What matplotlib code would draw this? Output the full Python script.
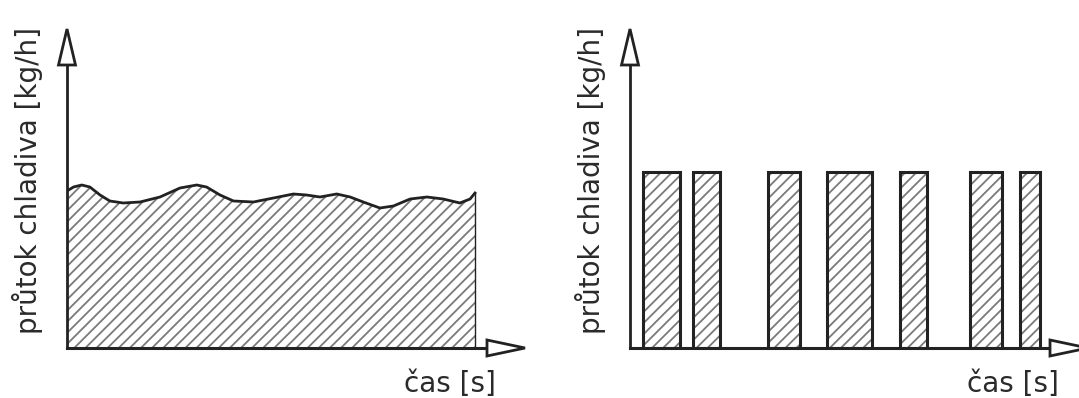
import numpy as np
import matplotlib as mpl
mpl.use('agg')
import matplotlib.pyplot as plt
from matplotlib.patches import Polygon

## left panel: continuous flow (time in %, flow in relative units)
t_cont = [0, 1.6, 3.6, 5.6, 8.1, 10.5, 13.8, 17.9, 22.8, 27.7, 31.8, 34.2, 37.5,
          40.8, 45.7, 50.6, 55.5, 58.7, 62.0, 66.1, 69.4, 72.6, 76.7, 80.0,
          84.1, 88.2, 92.2, 96.3, 98.8, 100]
flow_cont = [157, 161, 163, 161, 153, 147, 145, 146, 151, 160, 163, 161, 153,
             147, 146, 150, 154, 153, 151, 154, 151, 146, 140, 142,
             149, 151, 149, 145, 149, 155]

## right panel: on/off flow pulses
pulse_start = [3.2, 15.4, 33.8, 48.3, 66.2, 83.3, 95.6]
pulse_width = [9.1, 6.6, 7.8, 11.0, 6.6, 7.8, 4.9]
pulse_flow = [176, 176, 176, 176, 176, 176, 176]

ylabel = "průtok chladiva [kg/h]"
xlabel = "čas [s]"

W, H = 1079, 398
PX = 4.08          # px per time unit
INK = '#222222'
HATCH = '#7a7a7a'
plt.rcParams['hatch.linewidth'] = 1.3

fig = plt.figure(figsize=(W / 100, H / 100), dpi=100)


def make_panel(x0):
    # axes origin at pixel x0, baseline at y=348
    ax = fig.add_axes([x0 / W, (H - 348) / H, (W - x0) / W, 338 / H])
    ax.set_xlim(0, (W - x0) / PX)
    ax.set_ylim(0, 338)
    ax.axis('off')
    # y arrow
    ytip, hl, hw = 319, 36, 8.5 / PX
    ax.plot([0, 0], [0, ytip - hl], color=INK, lw=2, clip_on=False, zorder=4)
    ax.add_patch(Polygon([[0, ytip], [-hw, ytip - hl], [hw, ytip - hl]], closed=True,
                         fc='white', ec=INK, lw=2, clip_on=False, zorder=5))
    # x arrow
    xtip, hl, hw = 458 / PX, 38 / PX, 8
    ax.plot([0, xtip - hl], [0, 0], color=INK, lw=2.2, clip_on=False, zorder=4)
    ax.add_patch(Polygon([[xtip, 0], [xtip - hl, hw], [xtip - hl, -hw]], closed=True,
                         fc='white', ec=INK, lw=2, clip_on=False, zorder=5))
    fig.text((x0 - 39) / W, 1 - 180 / H, ylabel, rotation=90, ha='center', va='center',
             fontsize=20, color='#2a2a2a')
    fig.text((x0 + 383) / W, 1 - 384 / H, xlabel, ha='center', va='center',
             fontsize=20, color='#2a2a2a')
    return ax


ax1 = make_panel(67)
ax1.fill_between(t_cont, 0, flow_cont, facecolor='white', edgecolor=HATCH,
                 hatch='///', linewidth=0)
ax1.plot(t_cont, flow_cont, color=INK, lw=2)
ax1.plot([t_cont[-1], t_cont[-1]], [0, flow_cont[-1]], color=INK, lw=1)

ax2 = make_panel(630)
ax2.bar(pulse_start, pulse_flow, width=pulse_width, align='edge', facecolor='white',
        edgecolor=HATCH, hatch='///', linewidth=0)
ax2.bar(pulse_start, pulse_flow, width=pulse_width, align='edge', fill=False,
        edgecolor=INK, linewidth=2.2)

fig.savefig('out.png', dpi=100)
